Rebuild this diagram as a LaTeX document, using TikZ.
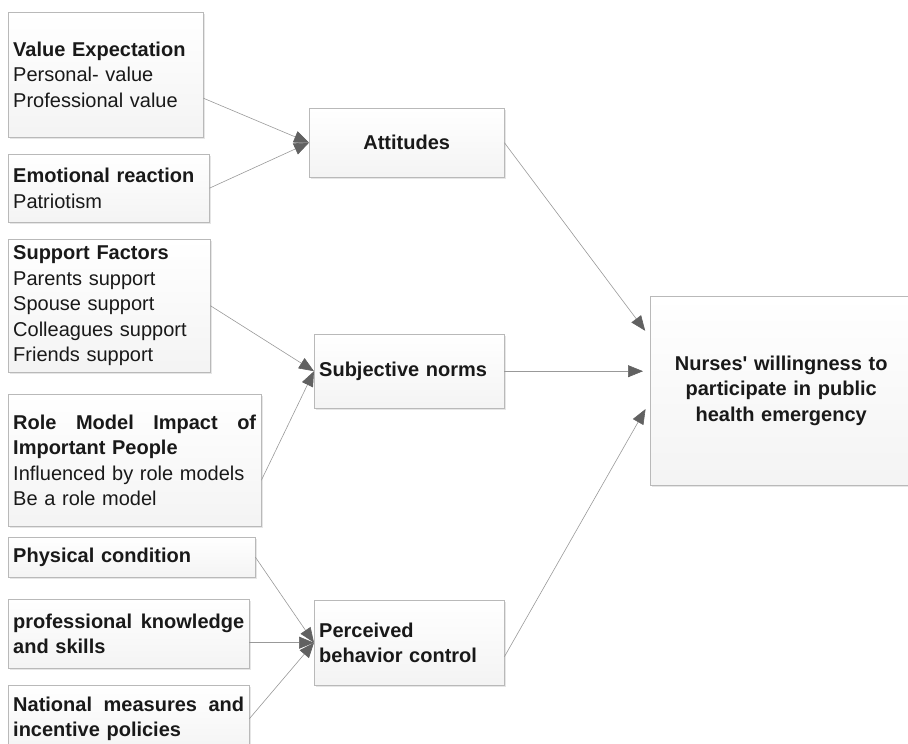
\documentclass[tikz,border=0pt]{standalone}
\usepackage{fontspec}
\setmainfont{Liberation Sans}
\usetikzlibrary{arrows.meta,shadows}

\begin{document}
\begin{tikzpicture}[x=1pt,y=-1pt,
        factor/.style={draw=gray!55, top color=white, bottom color=gray!9,
            inner xsep=5pt, inner ysep=6pt, anchor=north west, align=left, text=black!90,
            font=\fontsize{20}{25.5}\selectfont,
            drop shadow={shadow xshift=2pt, shadow yshift=-2pt, opacity=0.2, fill=gray}},
        link/.style={draw=gray!80, line width=0.6pt,
            -{Triangle[length=15pt,width=12pt,color=black!62,fill=black!62]}}]
            \clip (0,0) rectangle (908,744);
            % left column: factors
            \node[factor, text width=185, minimum height=125] (ve) at (8,12)
                {\textbf{Value Expectation}\\Personal- value\\Professional value};
            \node[factor, text width=191, minimum height=68] (er) at (8,154)
                {\textbf{Emotional reaction}\\Patriotism};
            \node[factor, text width=192, minimum height=133] (sf) at (8,239)
                {\textbf{Support Factors}\\Parents support\\Spouse support\\Colleagues support\\Friends support};
            \node[factor, text width=243, minimum height=132] (rm) at (8,394)
                {\textbf{Role\hfill Model\hfill Impact\hfill of}\\\textbf{Important People}\\Influenced by role models\\Be a role model};
            \node[factor, text width=237, minimum height=40] (pc) at (8,537)
                {\textbf{Physical condition}};
            \node[factor, text width=231, minimum height=69] (pk) at (8,599)
                {\textbf{professional\hfill knowledge}\\\textbf{and skills}};
            \node[factor, text width=231, minimum height=67] (nm) at (8,685)
                {\textbf{National\hfill measures\hfill and}\\\textbf{incentive policies}};

            % middle column: TPB constructs
            \node[factor, text width=185, minimum height=69, align=center] (att) at (309,108)
                {\textbf{Attitudes}};
            \node[factor, text width=180, minimum height=74] (sn) at (314,334)
                {\textbf{Subjective norms}};
            \node[factor, text width=180, minimum height=85] (pbc) at (314,600)
                {\textbf{Perceived}\\\textbf{behavior control}};

            % outcome
            \node[factor, text width=252, minimum height=189, align=center] (nw) at (650,296)
                {\textbf{Nurses\textquotesingle{} willingness to}\\\textbf{participate in public}\\\textbf{health emergency}};

            \draw[link] ([yshift=-23.5pt]ve.east) -- (att.west);
            \draw[link] (er.east) -- (att.west);
            \draw[link] (sf.east) -- (sn.west);
            \draw[link] ([yshift=-20pt]rm.east) -- (sn.west);
            \draw[link] (pc.east) -- (pbc.west);
            \draw[link] (pk.east |- pbc.west) -- (pbc.west);
            \draw[link] (nm.east) -- (pbc.west);

            \draw[link, shorten >=8pt] (att.east) -- ([yshift=53.5pt]nw.west);
            \draw[link, shorten >=7pt] (sn.east) -- (nw.west |- sn.east);
            \draw[link, shorten >=9pt] ([yshift=-14pt]pbc.east) -- ([yshift=-10.5pt]nw.west);
        \end{tikzpicture}
\end{document}
